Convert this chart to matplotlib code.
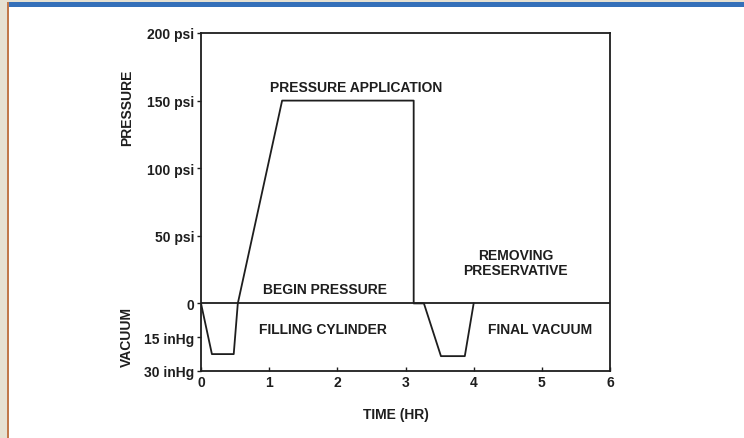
import matplotlib
matplotlib.use("Agg")
import matplotlib.pyplot as plt
from matplotlib.patches import Rectangle

# pressure/vacuum cycle, time in hours
# vacuum is drawn below zero: 30 inHg sits at the same depth as -50 psi
VAC_SCALE = 50.0 / 30.0

time_hr = [0.0, 0.16, 0.48, 0.54, 1.19, 3.12, 3.12, 3.27, 3.52, 3.87, 4.00]
psi     = [0,   0,    0,    0,    150,  150,  0,    0,    0,    0,    0]
inhg    = [0,   22.5, 22.5, 0,    0,    0,    0,    0,    23.4, 23.4, 0]

y_ticks = [200, 150, 100, 50, 0, -15 * VAC_SCALE, -30 * VAC_SCALE]
y_labels = ["200 psi", "150 psi", "100 psi", "50 psi", "0", "15 inHg", "30 inHg"]
x_ticks = [0, 1, 2, 3, 4, 5, 6]

plt.rcParams['font.family'] = ['Liberation Sans', 'DejaVu Sans']
ink = "#1e1e1e"
fs = 10

fig = plt.figure(figsize=(7.44, 4.39), dpi=100, facecolor="#e6e1d2")
# page frame: white panel, blue top rule, brown left rule
fig.patches.append(Rectangle((8 / 744, 0), 1, 1 - 8 / 439, transform=fig.transFigure,
                             facecolor="white", edgecolor="none", zorder=-10))
fig.patches.append(Rectangle((7 / 744, 1 - 8 / 439), 1, 5 / 439, transform=fig.transFigure,
                             facecolor="#3570b9", edgecolor="none", zorder=-9))
fig.patches.append(Rectangle((7 / 744, 0), 2 / 744, 1 - 3 / 439, transform=fig.transFigure,
                             facecolor="#c0784a", edgecolor="none", zorder=-9))

ax = fig.add_axes([201 / 744, 1 - 372 / 439, 409 / 744, 338 / 439])
ax.set_facecolor("none")

y = [p - v * VAC_SCALE for p, v in zip(psi, inhg)]
ax.plot(time_hr, y, color=ink, lw=1.3)
ax.axhline(0, color=ink, lw=1.3)

ax.set_xlim(0, 6)
ax.set_ylim(-50, 200)
for s in ax.spines.values():
    s.set_color(ink)
    s.set_linewidth(1.3)

ax.set_xticks(x_ticks)
ax.set_xticklabels([str(t) for t in x_ticks], fontsize=fs, fontweight="bold", color=ink)
ax.set_yticks(y_ticks)
ax.set_yticklabels(y_labels, fontsize=fs, fontweight="bold", color=ink)
ax.tick_params(axis="y", direction="out", length=3, width=1, color=ink, pad=2)
ax.tick_params(axis="x", direction="in", length=3, width=1, color=ink, pad=3)

txt = dict(fontsize=fs, fontweight="bold", color=ink, ha="center", va="center")
ax.text(2.27, 160, "PRESSURE APPLICATION", **txt)
ax.text(1.82, 11, "BEGIN PRESSURE", **txt)
ax.text(1.79, -19, "FILLING CYLINDER", **txt)
ax.text(4.62, 30, "REMOVING\nPRESERVATIVE", linespacing=1.1, **txt)
ax.text(4.97, -19, "FINAL VACUUM", **txt)

fig.text(127 / 744, 1 - 108 / 439, "PRESSURE", rotation=90, fontsize=fs,
         fontweight="bold", color=ink, ha="center", va="center")
fig.text(127 / 744, 1 - 337 / 439, "VACUUM", rotation=90, fontsize=fs,
         fontweight="bold", color=ink, ha="center", va="center")
fig.text(396 / 744, 1 - 415 / 439, "TIME (HR)", fontsize=fs,
         fontweight="bold", color=ink, ha="center", va="center")

fig.savefig("out.png", dpi=100, facecolor=fig.get_facecolor())
